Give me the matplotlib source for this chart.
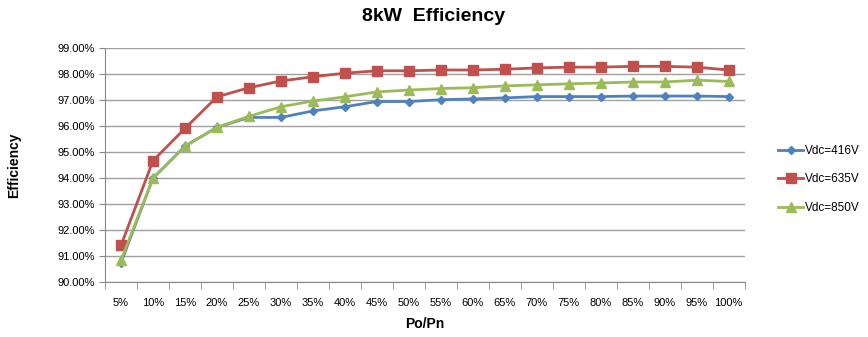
import numpy as np
import matplotlib.pyplot as plt
from matplotlib.ticker import FuncFormatter, FixedLocator

plt.rcParams['font.family'] = ['Liberation Sans', 'DejaVu Sans']

loads = ['5%', '10%', '15%', '20%', '25%', '30%', '35%', '40%', '45%', '50%',
         '55%', '60%', '65%', '70%', '75%', '80%', '85%', '90%', '95%', '100%']
eff_416 = [90.76, 94.00, 95.23, 95.95, 96.33, 96.33, 96.58, 96.74, 96.94, 96.94,
           97.01, 97.04, 97.08, 97.13, 97.13, 97.13, 97.15, 97.15, 97.15, 97.13]
eff_635 = [91.42, 94.67, 95.91, 97.12, 97.47, 97.73, 97.89, 98.03, 98.12, 98.12,
           98.15, 98.15, 98.18, 98.23, 98.26, 98.26, 98.29, 98.29, 98.26, 98.15]
eff_850 = [90.85, 94.00, 95.22, 95.95, 96.37, 96.74, 96.96, 97.12, 97.31, 97.38,
           97.44, 97.47, 97.54, 97.58, 97.62, 97.65, 97.69, 97.69, 97.76, 97.71]

fig = plt.figure(figsize=(8.68, 3.37), dpi=100)
ax = fig.add_axes([0.121, 0.162, 0.737, 0.696])

x = np.arange(len(loads))
ax.plot(x, eff_416, color='#4F81BD', marker='D', markersize=4.5, lw=2, label='Vdc=416V')
ax.plot(x, eff_635, color='#C0504D', marker='s', markersize=7, lw=2, label='Vdc=635V')
ax.plot(x, eff_850, color='#9BBB59', marker='^', markersize=7.5, lw=2, label='Vdc=850V')

ax.set_xlim(-0.5, len(loads) - 0.5)
ax.set_ylim(90, 99)
ax.set_yticks(np.arange(90, 99.1, 1))
ax.yaxis.set_major_formatter(FuncFormatter(lambda v, p: '%.2f%%' % v))
ax.set_xticks(x)
ax.set_xticklabels(loads)
ax.xaxis.set_minor_locator(FixedLocator(np.arange(-0.5, len(loads), 1)))
ax.tick_params(axis='x', which='major', length=0, pad=11, labelsize=8)
ax.tick_params(axis='x', which='minor', length=5, direction='out', color='#888888')
ax.tick_params(axis='y', length=4, direction='out', color='#888888', labelsize=8)

ax.grid(axis='y', color='#A0A0A0', lw=1)
ax.set_axisbelow(True)
for s in ['top', 'right']:
    ax.spines[s].set_visible(False)
for s in ['left', 'bottom']:
    ax.spines[s].set_color('#888888')

ax.set_xlabel('Po/Pn', fontsize=10, fontweight='bold', labelpad=7)
ax.set_ylabel('Efficiency', fontsize=10, fontweight='bold', labelpad=26)
fig.suptitle('8kW  Efficiency', fontsize=14, fontweight='bold', y=0.975)

ax.legend(loc='center left', bbox_to_anchor=(1.045, 0.44), frameon=False, fontsize=8.5,
          handlelength=2.1, handletextpad=0.2, labelspacing=1.4, borderaxespad=0)

plt.savefig('out.png', dpi=100)
